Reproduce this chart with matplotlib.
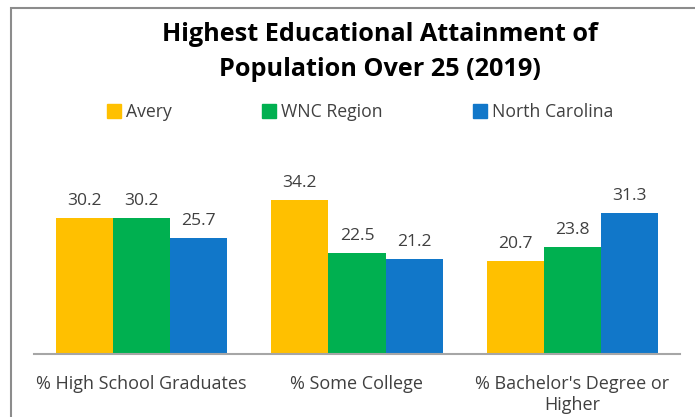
import matplotlib
matplotlib.use("Agg")
import matplotlib.pyplot as plt
import numpy as np
from matplotlib.lines import Line2D
from matplotlib.patches import Rectangle

categories = ["% High School Graduates", "% Some College", "% Bachelor's Degree or\nHigher"]
series = ["Avery", "WNC Region", "North Carolina"]
avery = [30.2, 34.2, 20.7]
wnc = [30.2, 22.5, 23.8]
nc = [25.7, 21.2, 31.3]
colors = ["#FFC000", "#00B050", "#1177C9"]

plt.rcParams['font.family'] = ['Open Sans', 'DejaVu Sans']

W, H = 695, 417
fig = plt.figure(figsize=(W / 100, H / 100), dpi=100)
fig.patch.set_facecolor("white")

# outer chart border (cropped at right and bottom)
fig.patches.append(Rectangle((11 / W, -0.1), 1.0, 1 - 8 / H + 0.1, transform=fig.transFigure,
                             fill=False, edgecolor="#8c8c8c", linewidth=1.5))

ax = fig.add_axes([34 / W, (H - 354) / H, 646 / W, 180 / H])
x = np.arange(len(categories))
bw = 0.265
vals = [avery, wnc, nc]
for i, (name, v) in enumerate(zip(series, vals)):
    bars = ax.bar(x + (i - 1) * bw, v, bw, color=colors[i], label=name)
    for b, val in zip(bars, v):
        ax.text(b.get_x() + b.get_width() / 2, val + 2.0, f"{val:.1f}", ha="center", va="bottom",
                fontsize=12.6, color="#404040")

ax.set_xlim(-0.5, 2.5)
ax.set_ylim(0, 40)
ax.set_yticks([])
ax.set_xticks(x)
ax.set_xticklabels(categories, fontsize=13, color="#404040", linespacing=1.25)
ax.tick_params(axis="x", length=0, pad=15)
for s in ["top", "right", "left"]:
    ax.spines[s].set_visible(False)
ax.spines["bottom"].set_color("#a6a6a6")
ax.spines["bottom"].set_linewidth(1.5)

fig.text(380 / W, 1 - 52 / H, "Highest Educational Attainment of\nPopulation Over 25 (2019)",
         ha="center", va="center", fontsize=18.2, fontweight="bold", color="black", linespacing=1.52)

handles = [Line2D([], [], marker="s", linestyle="none", markersize=10, color=c) for c in colors]
fig.legend(handles, series, loc="center", bbox_to_anchor=(360 / W, 1 - 112 / H), ncol=3,
           frameon=False, fontsize=12.7, handlelength=0.8, handletextpad=0.3, columnspacing=5.1,
           labelcolor="#404040")

fig.savefig("out.png", dpi=100)
